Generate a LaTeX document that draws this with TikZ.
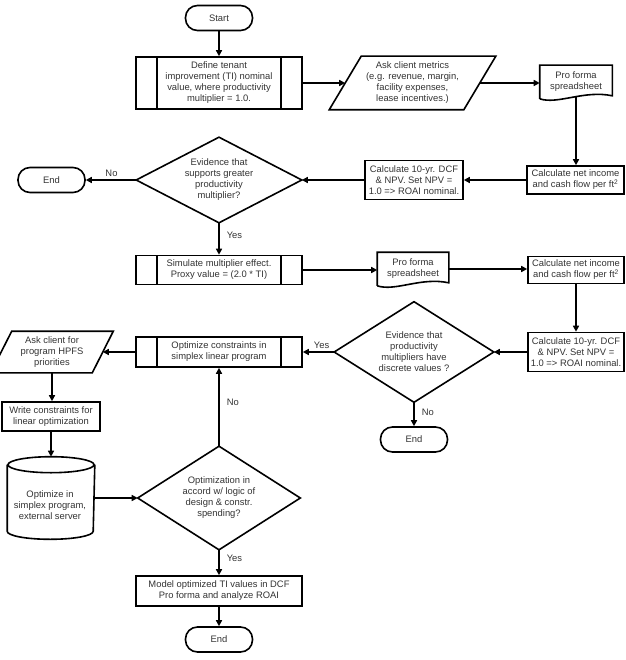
\documentclass[tikz,border=0pt]{standalone}
\usepackage{fontspec}
\setmainfont{Liberation Sans}
\usetikzlibrary{arrows.meta,calc}

\begin{document}
\begin{tikzpicture}[x=1pt,y=-1pt,
  font=\fontsize{9.4}{11}\selectfont,
  every node/.style={text=black!80, align=center, inner sep=0pt},
  line width=1.6pt,
  term/.style={draw, rounded corners=12pt, minimum width=67pt, minimum height=25pt},
  proc/.style={draw, minimum width=#1},
  pre/.style={draw, minimum width=166pt,
    path picture={\draw[line width=1.6pt]
      ([xshift=21pt]path picture bounding box.north west) -- ([xshift=21pt]path picture bounding box.south west)
      ([xshift=-21pt]path picture bounding box.north east) -- ([xshift=-21pt]path picture bounding box.south east);}},
  holder/.style={draw=none},
  arr/.style={-{Triangle[length=6pt,width=6pt]}},
  lbl/.style={text=black!80}
]
\useasboundingbox (0,0) rectangle (625,660);

% ---- top row ----
\node[term] (start) at (219,18) {Start};
\node[pre, minimum height=52pt] (define) at (219,83)
  {Define tenant\\improvement (TI) nominal\\value, where productivity\\multiplier = 1.0.};

\node[holder, minimum width=133pt, minimum height=52pt] (ask) at (412.5,83)
  {Ask client metrics\\(e.g. revenue, margin,\\facility expenses,\\lease incentives.)};
\draw ([xshift=16pt]ask.north west) -- ([xshift=16pt]ask.north east)
  -- ([xshift=-16pt]ask.south east) -- ([xshift=-16pt]ask.south west) -- cycle;

\node[holder, minimum width=71pt, minimum height=32pt] (pf1) at (576,82) {Pro forma\\spreadsheet};
\draw (pf1.south west) -- (pf1.north west) -- (pf1.north east) -- ([yshift=3pt]pf1.south east)
  .. controls ($(pf1.south east)+(-28,-9)$) and ($(pf1.south west)+(18,6)$) .. (pf1.south west);

\node[proc=97pt, minimum height=28pt] (calc1) at (575.5,180)
  {Calculate net income\\and cash flow per ft\textsuperscript{2}};
\node[proc=98pt, minimum height=39pt] (dcf1) at (414,180)
  {Calculate 10-yr. DCF\\\& NPV. Set NPV =\\1.0 => ROAI nominal.};

\node[holder, minimum width=164pt, minimum height=84pt] (d1) at (219,180)
  {Evidence that\\supports greater\\productivity\\multiplier?};
\draw (d1.north) -- (d1.east) -- (d1.south) -- (d1.west) -- cycle;

\node[term] (end1) at (51.5,180) {End};

% ---- second row ----
\node[pre, minimum height=29pt] (sim) at (219,270)
  {Simulate multiplier effect.\\Proxy value = (2.0 * TI)};

\node[holder, minimum width=70pt, minimum height=32pt] (pf2) at (413,269) {Pro forma\\spreadsheet};
\draw (pf2.south west) -- (pf2.north west) -- (pf2.north east) -- ([yshift=3pt]pf2.south east)
  .. controls ($(pf2.south east)+(-28,-9)$) and ($(pf2.south west)+(18,6)$) .. (pf2.south west);

\node[proc=96pt, minimum height=27pt] (calc2) at (576,270)
  {Calculate net income\\and cash flow per ft\textsuperscript{2}};
\node[proc=96pt, minimum height=39pt] (dcf2) at (576,352)
  {Calculate 10-yr. DCF\\\& NPV. Set NPV =\\1.0 => ROAI nominal.};

\node[holder, minimum width=158pt, minimum height=99pt] (d2) at (414,352)
  {Evidence that\\productivity\\multipliers have\\discrete values ?};
\draw (d2.north) -- (d2.east) -- (d2.south) -- (d2.west) -- cycle;

\node[term] (end2) at (414,439.5) {End};

% ---- optimization loop ----
\node[pre, minimum height=30pt] (opt) at (219,352)
  {Optimize constraints in\\simplex linear program};

\node[holder, minimum width=100pt, minimum height=40pt] (hpfs) at (52,352)
  {Ask client for\\program HPFS\\priorities};
\draw ([xshift=10.5pt]hpfs.north west) -- ([xshift=10.5pt]hpfs.north east)
  -- ([xshift=-10.5pt]hpfs.south east) -- ([xshift=-10.5pt]hpfs.south west) -- cycle;

\node[proc=98pt, minimum height=29pt] (write) at (51,416.5)
  {Write constraints for\\linear optimization};

\node[holder, minimum width=86pt, minimum height=81pt] (cyl) at (51,498) {};
\draw ($(cyl.north)+(0,8)$) ellipse [x radius=43pt, y radius=8pt];
\draw ($(cyl.north west)+(0,8)$) -- ($(cyl.south west)+(0,-8)$)
  arc[start angle=180, end angle=360, x radius=43pt, y radius=8pt]
  -- ($(cyl.north east)+(0,8)$);
\node (cyltext) at ($(cyl)+(-1,7)$) {Optimize in\\simplex program,\\external server};

\node[holder, minimum width=161pt, minimum height=102pt] (d3) at (219,498)
  {Optimization in\\accord w/ logic of\\design \& constr.\\spending?};
\draw (d3.north) -- (d3.east) -- (d3.south) -- (d3.west) -- cycle;

\node[proc=166pt, minimum height=30pt] (model) at (219,591)
  {Model optimized TI values in DCF\\Pro forma and analyze ROAI};
\node[term] (end3) at (219,639.5) {End};

% ---- connectors ----
\draw[arr] (start) -- (define);
\draw[arr] (define.east) -- (ask.west);
\draw[arr] (ask.east) -- (ask.east -| pf1.west);
\draw[arr] ([yshift=2.5pt]pf1.south) -- (pf1.south |- calc1.north);
\draw[arr] (calc1.west) -- (calc1.west -| dcf1.east);
\draw[arr] (dcf1.west) -- (d1.east);
\draw[arr] (d1.west) -- node[lbl, above=3pt, pos=0.49] {No} (end1.east);
\draw[arr] (d1.south) -- node[lbl, right=7pt, pos=0.39] {Yes} (sim.north);
\draw[arr] (sim.east) -- (sim.east -| pf2.west);
\draw[arr] (pf2.east) -- (pf2.east -| calc2.west);
\draw[arr] (calc2.south) -- (calc2.south |- dcf2.north);
\draw[arr] (dcf2.west) -- (dcf2.west -| d2.east);
\draw[arr] (d2.west) -- node[lbl, above=3pt, pos=0.4] {Yes} (d2.west -| opt.east);
\draw[arr] (d2.south) -- node[lbl, right=7pt, pos=0.4] {No} (d2.south |- end2.north);
\draw[arr] (opt.west) -- (opt.west -| hpfs.east);
\draw[arr] (hpfs.south) -- (hpfs.south |- write.north);
\draw[arr] (write.south) -- (write.south |- cyl.north);
\draw[arr] (cyl.east) -- (cyl.east -| d3.west);
\draw[arr] (d3.north) -- node[lbl, right=7pt, pos=0.56] {No} (d3.north |- opt.south);
\draw[arr] (d3.south) -- node[lbl, right=7pt, pos=0.33] {Yes} (d3.south |- model.north);
\draw[arr] (model.south) -- (model.south |- end3.north);
\end{tikzpicture}
\end{document}
